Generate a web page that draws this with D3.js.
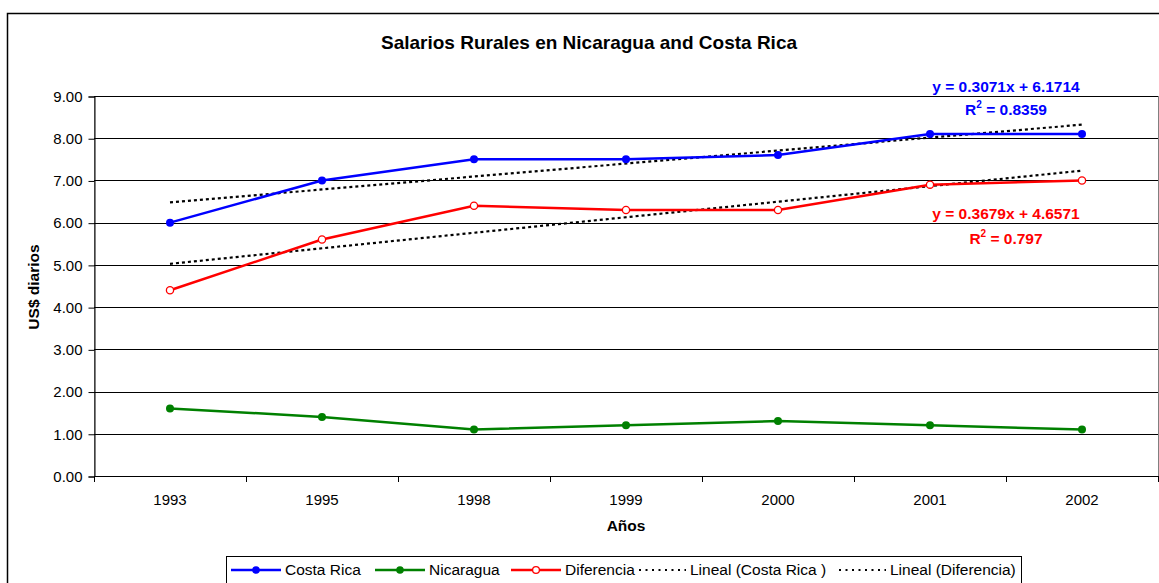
<!DOCTYPE html>
<html>
<head>
<meta charset="utf-8">
<script src="https://cdn.jsdelivr.net/npm/d3@7"></script>
<style>
    body { margin: 0; background: #fff; }
    svg { font-family: "Liberation Sans", Arial, sans-serif; display: block; }
</style>
</head>
<body>
<div id="chart"></div>
<script>
var years = ["1993", "1995", "1998", "1999", "2000", "2001", "2002"];
var costaRica = [6.0, 7.0, 7.5, 7.5, 7.6, 8.1, 8.1];
var nicaragua = [1.6, 1.4, 1.1, 1.2, 1.3, 1.2, 1.1];
var diferencia = [4.4, 5.6, 6.4, 6.3, 6.3, 6.9, 7.0];
var yTicks = [0, 1, 2, 3, 4, 5, 6, 7, 8, 9];
// trend line coefficients as printed on the chart
var trendCR = { slope: 0.3071, intercept: 6.1714, r2: "0.8359" };
var trendDif = { slope: 0.3679, intercept: 4.6571, r2: "0.797" };

function draw_chart() {
    var WIDTH = 1159, HEIGHT = 583;
    var PL = 94, PR = 1158, PT = 96, PB = 476;

    var svg = d3.select("#chart").append("svg")
        .attr("width", WIDTH)
        .attr("height", HEIGHT);

    // chart area border
    svg.append("rect")
        .attr("x", 7.5).attr("y", 13.5)
        .attr("width", WIDTH + 10).attr("height", HEIGHT + 10)
        .attr("fill", "#fff").attr("stroke", "#000").attr("stroke-width", 1.5);

    var x = d3.scalePoint().domain(years).range([PL, PR]).padding(0.5);
    var y = d3.scaleLinear().domain([0, 9]).range([PB, PT]);

    // plot area
    svg.append("rect")
        .attr("x", PL + 0.5).attr("y", PT + 0.5)
        .attr("width", PR - PL).attr("height", PB - PT)
        .attr("fill", "#fff").attr("stroke", "#808080").attr("stroke-width", 1);

    // gridlines
    svg.append("g").selectAll("line")
        .data(yTicks).enter().append("line")
        .attr("x1", PL).attr("x2", PR)
        .attr("y1", function (d) { return Math.round(y(d)) + 0.5; })
        .attr("y2", function (d) { return Math.round(y(d)) + 0.5; })
        .attr("stroke", "#000").attr("stroke-width", 1);

    // y axis
    var yAxis = svg.append("g")
        .attr("transform", "translate(" + (PL + 0.5) + ",0.5)")
        .call(d3.axisLeft(y).tickValues(yTicks).tickFormat(d3.format(".2f")).tickSize(6).tickPadding(6));
    yAxis.selectAll("path, line").attr("stroke", "#000");
    yAxis.selectAll("text").attr("font-size", 15).attr("fill", "#000")
        .attr("font-family", "Liberation Sans, Arial, sans-serif");

    // x axis
    svg.append("line")
        .attr("x1", PL).attr("x2", PR)
        .attr("y1", PB + 0.5).attr("y2", PB + 0.5)
        .attr("stroke", "#000");
    var step = x.step();
    var bounds = [];
    for (var i = 0; i <= years.length; i++) bounds.push(PL + i * step);
    svg.append("g").selectAll("line")
        .data(bounds).enter().append("line")
        .attr("x1", function (d) { return Math.round(d) + 0.5; })
        .attr("x2", function (d) { return Math.round(d) + 0.5; })
        .attr("y1", PB).attr("y2", PB + 6)
        .attr("stroke", "#000");
    svg.append("g").selectAll("text")
        .data(years).enter().append("text")
        .attr("x", function (d) { return x(d); })
        .attr("y", PB + 29)
        .attr("text-anchor", "middle")
        .attr("font-size", 15)
        .text(function (d) { return d; });

    // trend lines
    function trendLine(t) {
        var n = years.length;
        return [
            [x(years[0]), y(t.slope * 1 + t.intercept)],
            [x(years[n - 1]), y(t.slope * n + t.intercept)]
        ];
    }
    [trendCR, trendDif].forEach(function (t) {
        svg.append("path")
            .attr("d", d3.line()(trendLine(t)))
            .attr("fill", "none")
            .attr("stroke", "#000")
            .attr("stroke-width", 2.2)
            .attr("stroke-dasharray", "3,3");
    });

    var series = [
        { name: "Costa Rica", values: costaRica, color: "#0000ff", open: false },
        { name: "Nicaragua", values: nicaragua, color: "#008000", open: false },
        { name: "Diferencia", values: diferencia, color: "#ff0000", open: true }
    ];

    var line = d3.line()
        .x(function (d, i) { return x(years[i]); })
        .y(function (d) { return y(d); });

    series.forEach(function (s) {
        svg.append("path")
            .attr("d", line(s.values))
            .attr("fill", "none")
            .attr("stroke", s.color)
            .attr("stroke-width", 2.5);
        svg.append("g").selectAll("circle")
            .data(s.values).enter().append("circle")
            .attr("cx", function (d, i) { return x(years[i]); })
            .attr("cy", function (d) { return y(d); })
            .attr("r", s.open ? 3.6 : 4)
            .attr("fill", s.open ? "#fff" : s.color)
            .attr("stroke", s.color)
            .attr("stroke-width", s.open ? 1.3 : 0);
    });

    // equations
    function equation(t, color, cx, y1, y2) {
        svg.append("text")
            .attr("x", cx).attr("y", y1)
            .attr("text-anchor", "middle")
            .attr("font-size", 15.5).attr("font-weight", "bold")
            .attr("fill", color)
            .text("y = " + t.slope.toFixed(4) + "x + " + t.intercept.toFixed(4));
        var r = svg.append("text")
            .attr("x", cx).attr("y", y2)
            .attr("text-anchor", "middle")
            .attr("font-size", 15.5).attr("font-weight", "bold")
            .attr("fill", color);
        r.append("tspan").text("R");
        r.append("tspan").attr("font-size", 10).attr("dy", -7).text("2");
        r.append("tspan").attr("dy", 7).text(" = " + t.r2);
    }
    equation(trendCR, "#0000ff", 1006, 92, 115);
    equation(trendDif, "#ff0000", 1006, 219, 244);

    // titles
    svg.append("text")
        .attr("x", 589).attr("y", 49)
        .attr("text-anchor", "middle")
        .attr("font-size", 19).attr("font-weight", "bold")
        .text("Salarios Rurales en Nicaragua and Costa Rica");
    svg.append("text")
        .attr("transform", "translate(39,287) rotate(-90)")
        .attr("text-anchor", "middle")
        .attr("font-size", 15.5).attr("font-weight", "bold")
        .text("US$ diarios");
    svg.append("text")
        .attr("x", x("1999")).attr("y", 531)
        .attr("text-anchor", "middle")
        .attr("font-size", 15.5).attr("font-weight", "bold")
        .text("Años");

    // legend
    var legend = svg.append("g");
    legend.append("rect")
        .attr("x", 226.5).attr("y", 556.5)
        .attr("width", 795).attr("height", 40)
        .attr("fill", "#fff").attr("stroke", "#000");

    var legendItems = [
        { label: "Costa Rica", color: "#0000ff", marker: "fill", x0: 231 },
        { label: "Nicaragua", color: "#008000", marker: "fill", x0: 375 },
        { label: "Diferencia", color: "#ff0000", marker: "open", x0: 511 },
        { label: "Lineal (Costa Rica )", color: "#000", marker: "trend", x0: 639 },
        { label: "Lineal (Diferencia)", color: "#000", marker: "trend", x0: 839 }
    ];
    var ly = 570;
    legendItems.forEach(function (it) {
        var g = legend.append("g");
        var trend = it.marker == "trend";
        g.append("line")
            .attr("x1", it.x0).attr("x2", it.x0 + (trend ? 47 : 50))
            .attr("y1", ly).attr("y2", ly)
            .attr("stroke", it.color)
            .attr("stroke-width", trend ? 2 : 2.5)
            .attr("stroke-dasharray", trend ? "2,4.5" : null);
        if (!trend) {
            g.append("circle")
                .attr("cx", it.x0 + 25).attr("cy", ly)
                .attr("r", it.marker == "open" ? 3.4 : 3.8)
                .attr("fill", it.marker == "open" ? "#fff" : it.color)
                .attr("stroke", it.color)
                .attr("stroke-width", it.marker == "open" ? 1.3 : 0);
        }
        g.append("text")
            .attr("x", it.x0 + (trend ? 51 : 54)).attr("y", ly + 5)
            .attr("font-size", 15.5)
            .text(it.label);
    });
}

draw_chart();
</script>
</body>
</html>
